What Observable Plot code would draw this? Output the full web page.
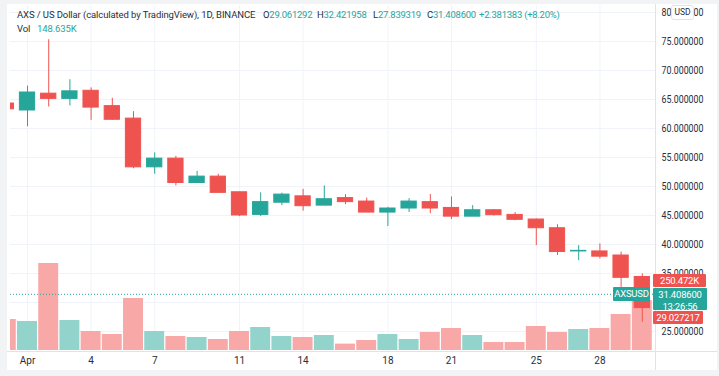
<!DOCTYPE html>
<html><head><meta charset="utf-8">
<script src="https://cdn.jsdelivr.net/npm/d3@7"></script>
<script src="https://cdn.jsdelivr.net/npm/@observablehq/plot@0.6"></script>
<style>
html,body{margin:0;padding:0;background:#f2f3f5;}
#wrap{position:relative;width:719px;height:376px;overflow:hidden;background:#f2f3f5;font-family:Roboto,"Liberation Sans",sans-serif;}
#wrap svg text{font-family:Roboto,"Liberation Sans",sans-serif !important;}
#panel{position:absolute;left:7px;top:4px;width:710px;height:366px;background:#fff;}
.layer{position:absolute;left:0;top:0;}
.hline{position:absolute;background:#e0e3eb;}
.hd{position:absolute;font-size:9.5px;color:#2a2e39;line-height:14px;white-space:pre;letter-spacing:-0.1px;}
.hv{letter-spacing:-0.25px;}
.up{color:#26a69a;}
.box{position:absolute;color:#fff;font-size:9.5px;line-height:12px;text-align:center;border-radius:1px;letter-spacing:-0.2px;padding-top:1px;box-sizing:border-box;}
#usd{position:absolute;left:671px;top:5px;width:23px;height:15px;background:#fff;border:1px solid #e0e3eb;border-radius:3px;font-size:8.5px;line-height:13px;text-align:center;color:#2a2e39;box-sizing:border-box;}
</style>
</head><body>
<div id="wrap"><div id="panel"></div></div>
<script>
// ---- data (AXS/USD, 1D, Binance) ----
const dates = ["2022-03-31","2022-04-01","2022-04-02","2022-04-03","2022-04-04","2022-04-05","2022-04-06","2022-04-07","2022-04-08","2022-04-09","2022-04-10","2022-04-11","2022-04-12","2022-04-13","2022-04-14","2022-04-15","2022-04-16","2022-04-17","2022-04-18","2022-04-19","2022-04-20","2022-04-21","2022-04-22","2022-04-23","2022-04-24","2022-04-25","2022-04-26","2022-04-27","2022-04-28","2022-04-29","2022-04-30"];
const opens  = [64.3,63.1,66.0,65.1,66.5,63.85,61.7,53.3,54.8,50.6,51.7,49.0,45.1,47.2,48.3,46.7,48.0,47.4,45.5,46.2,47.3,46.3,44.8,45.9,45.1,44.3,42.8,38.8,38.8,38.1,34.4];
const highs  = [64.4,67.3,75.3,68.4,67.0,65.2,62.9,55.8,55.2,52.6,52.1,49.0,48.9,48.85,49.5,50.1,48.6,48.0,46.4,47.9,48.6,48.2,46.7,46.0,45.5,44.4,43.4,39.8,40.1,38.7,34.95];
const lows   = [63.2,60.3,63.7,63.9,61.4,61.4,53.05,52.1,50.1,50.6,48.9,44.8,44.8,46.7,45.75,46.7,46.85,45.5,43.1,45.5,45.3,44.3,44.8,44.9,44.1,39.8,38.1,37.2,37.5,32.6,26.6];
const closes = [63.3,66.2,65.1,66.4,63.6,61.5,53.3,54.8,50.6,51.7,48.9,45.0,47.3,48.6,46.6,47.8,47.3,45.5,46.2,47.4,46.2,44.8,45.9,45.05,44.25,42.8,38.7,38.9,37.9,34.25,29.03];
const volumesK = [155,145,435,150,95,80,260,95,70,65,55,95,115,70,65,75,32,50,80,55,90,110,75,40,40,120,90,105,110,180,250];
const priceTicks = [25,30,35,40,45,50,55,60,65,70,75,80];
const dateTicks = ["2022-04-01","2022-04-04","2022-04-07","2022-04-11","2022-04-14","2022-04-18","2022-04-21","2022-04-25","2022-04-28"];
const lastPrice = 31.4086, lastPriceText = "31.408600", countdown = "13:26:56";
const prevClose = "29.027217", volLabel = "250.472K", symbol = "AXSUSD";
const headerTitle = "AXS / US Dollar (calculated by TradingView), 1D, BINANCE";
const headerKeys = ["O","H","L","C",""];
const headerVals = ["29.061292","32.421958","27.839319","31.408600","+2.381383 (+8.20%)"];
const volTitle = "Vol", volValue = "148.635K";

const UP = "#26a69a", DOWN = "#ef5350", UPV = "#92d3cc", DOWNV = "#f7a8a7", GRID = "#f0f3fa";
const DAY = 864e5;
const data = dates.map((d,i) => ({date:new Date(d), open:opens[i], high:highs[i], low:lows[i], close:closes[i], vol:volumesK[i], up: closes[i] >= opens[i]}));
const W = 719, H = 376;
const xOpt = {type:"utc", domain:[new Date(Date.UTC(2022,2,31,4,45)), new Date(Date.UTC(2022,3,30,14,57))], range:[10,655]};
const common = {width:W, height:H, marginLeft:10, marginRight:64, marginTop:5, marginBottom:25,
  style:{background:"transparent", fontFamily:"Roboto, 'Liberation Sans', sans-serif", color:"#2a2e39", overflow:"visible"}};

// grid layer
const gridPlot = Plot.plot({...common, x:{...xOpt, axis:null}, y:{domain:[21.55,81.2], range:[351,5], axis:null},
  marks:[
    Plot.ruleY(priceTicks, {stroke:GRID}),
    Plot.ruleX(dateTicks.map(d=>new Date(d)), {stroke:GRID})
  ]});

// volume layer
const volPlot = Plot.plot({...common, x:{...xOpt, axis:null}, y:{domain:[0,500], range:[350,250], axis:null},
  marks:[
    Plot.rect(data, {x1:d=>new Date(+d.date-0.47*DAY), x2:d=>new Date(+d.date+0.47*DAY), y1:0, y2:"vol", fill:d=>d.up?UPV:DOWNV, clip:true})
  ]});

// price layer
const pricePlot = Plot.plot({...common, x:xOpt, y:{domain:[21.55,81.2], range:[351,5]},
  marks:[
    Plot.axisY({anchor:"right", ticks:priceTicks, tickFormat:d3.format(".6f"), tickSize:0, tickPadding:6, fontSize:10, label:null}),
    Plot.axisX({ticks:dateTicks.map(d=>new Date(d)), tickFormat:d=>d.getUTCDate()===1?"Apr":String(d.getUTCDate()), tickSize:0, tickPadding:5, fontSize:10, label:null}),
    Plot.ruleY([lastPrice], {stroke:UP, strokeDasharray:"1,2", strokeWidth:1}),
    Plot.ruleX(data, {x:"date", y1:"low", y2:"high", stroke:d=>d.up?UP:DOWN, clip:true}),
    Plot.rect(data, {x1:d=>new Date(+d.date-0.36*DAY), x2:d=>new Date(+d.date+0.36*DAY), y1:"open", y2:"close", fill:d=>d.up?UP:DOWN, stroke:d=>d.up?UP:DOWN, strokeWidth:1, clip:true})
  ]});

const wrap = document.getElementById("wrap");
[gridPlot, volPlot, pricePlot].forEach(p => { p.classList.add("layer"); wrap.appendChild(p); });
// condense the right price-axis labels to the reference width
pricePlot.querySelectorAll("text").forEach(t => {
  if (/^\d+\.\d{6}$/.test(t.textContent)) { t.setAttribute("textLength","42"); t.setAttribute("lengthAdjust","spacingAndGlyphs"); }
});

// frame lines
function line(l,t,w,h){const e=document.createElement("div");e.className="hline";Object.assign(e.style,{left:l+"px",top:t+"px",width:w+"px",height:h+"px"});wrap.appendChild(e);}
line(7,351,710,1);
line(655,4,1,366);

// header
function hd(html,l,t,cls){const e=document.createElement("div");e.className="hd"+(cls?" "+cls:"");e.innerHTML=html;Object.assign(e.style,{left:l+"px",top:t+"px"});wrap.appendChild(e);}
hd(headerTitle,17,8);
const hx = [263,317,373,427,479];
headerVals.forEach((v,i)=>hd(`${headerKeys[i]}<span class="up">${v}</span>`,hx[i],8,"hv"));
hd(volTitle,17,22);
hd(`<span class="up">${volValue}</span>`,37,22);

// right-side labels positioned with the price scale
const ys = pricePlot.scale("y");
const ly = ys.apply(lastPrice);
function box(txt,l,t,w,h,bg){const e=document.createElement("div");e.className="box";e.innerHTML=txt;Object.assign(e.style,{left:l+"px",top:t+"px",width:w+"px",height:h+"px",background:bg});wrap.appendChild(e);return e;}
box(volLabel,653,ly-20,53,13,DOWN);
box(lastPriceText+"<br>"+countdown,653,ly-6,54,22,UP);
box(prevClose,653,ly+17,50,13,DOWN);
box(symbol,613,ly-7,37,14,UP);
const usd=document.createElement("div"); usd.id="usd"; usd.textContent="USD"; wrap.appendChild(usd);
</script>
</body></html>
